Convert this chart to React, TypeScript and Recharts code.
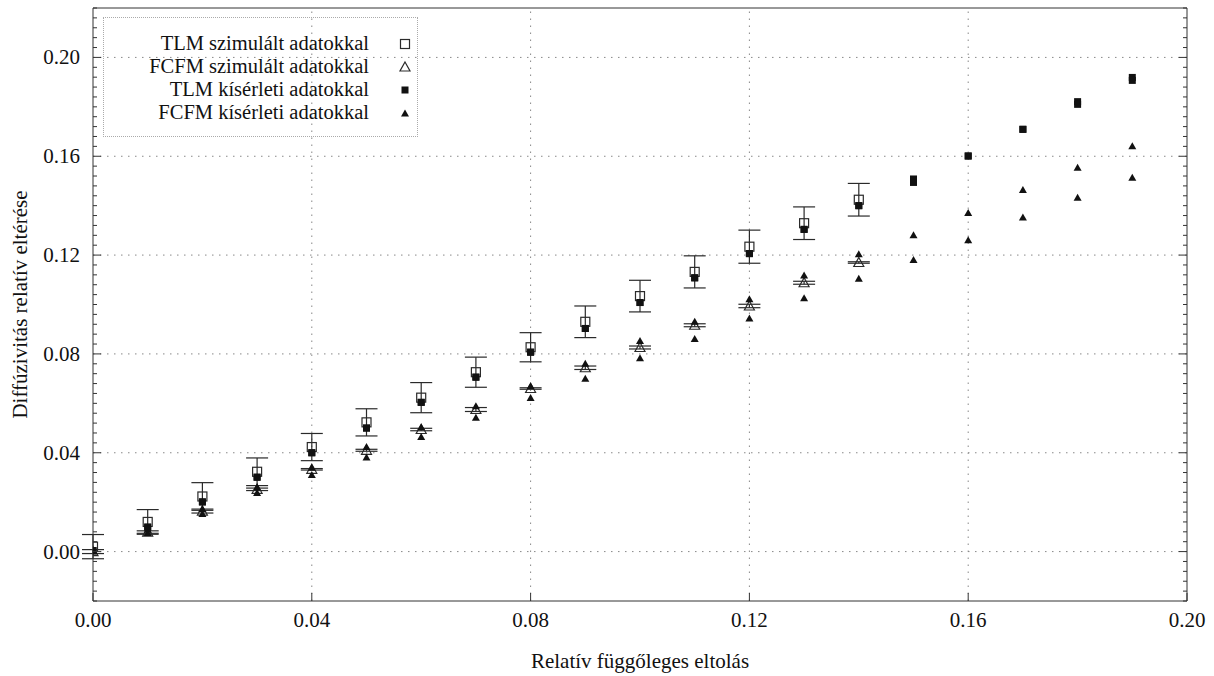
import { ScatterChart, Scatter, XAxis, YAxis, ErrorBar, ReferenceLine, Legend } from 'recharts';

// relatív függőleges eltolás (x)
const xValues = [0, 0.01, 0.02, 0.03, 0.04, 0.05, 0.06, 0.07, 0.08, 0.09, 0.1, 0.11, 0.12, 0.13, 0.14, 0.15, 0.16, 0.17, 0.18, 0.19];

// TLM szimulált adatokkal (0 .. 0.14) + hibasáv
const tlmSim = [0.002, 0.012, 0.0223, 0.0323, 0.0423, 0.0523, 0.0623, 0.0726, 0.0827, 0.093, 0.1034, 0.1132, 0.1234, 0.1329, 0.1424];
const tlmSimErr = [0.0049, 0.005, 0.0056, 0.0056, 0.0055, 0.0055, 0.0061, 0.0061, 0.0059, 0.0064, 0.0064, 0.0065, 0.0067, 0.0066, 0.0066];

// FCFM szimulált adatokkal (0 .. 0.14) + hibasáv
const fcfmSim = [0.0, 0.0079, 0.0164, 0.0252, 0.0333, 0.041, 0.0494, 0.0575, 0.066, 0.0744, 0.0826, 0.0916, 0.0994, 0.1088, 0.117];
const fcfmSimErr = [0.0008, 0.0005, 0.0008, 0.0005, 0.0003, 0.0004, 0.0005, 0.0008, 0.0003, 0.0007, 0.0006, 0.0006, 0.0007, 0.0006, 0.0003];

// TLM kísérleti adatokkal (két mérés, többnyire egybeesik)
const tlmExpA = [0.0004, 0.0099, 0.0201, 0.0301, 0.04, 0.05, 0.0604, 0.0706, 0.0807, 0.0903, 0.1008, 0.1108, 0.1206, 0.1304, 0.14, 0.1508, 0.1601, 0.1709, 0.1821, 0.1919];
const tlmExpB = [0.0004, 0.0099, 0.0201, 0.0301, 0.04, 0.05, 0.0604, 0.0706, 0.0807, 0.0903, 0.1008, 0.1108, 0.1206, 0.1304, 0.14, 0.1494, 0.1601, 0.1709, 0.181, 0.1907];

// FCFM kísérleti adatokkal (felső / alsó érték)
const fcfmExpHigh = [0.0003, 0.0088, 0.0172, 0.026, 0.0339, 0.0423, 0.0503, 0.0588, 0.0669, 0.076, 0.0852, 0.093, 0.1021, 0.1117, 0.1203, 0.128, 0.137, 0.1463, 0.1553, 0.164];
const fcfmExpLow = [0.0, 0.0075, 0.0152, 0.0237, 0.031, 0.0381, 0.0464, 0.0542, 0.0622, 0.07, 0.0782, 0.086, 0.0943, 0.1025, 0.1104, 0.118, 0.126, 0.1352, 0.1432, 0.1513];

const seriesNames = ['TLM szimulált adatokkal', 'FCFM szimulált adatokkal', 'TLM kísérleti adatokkal', 'FCFM kísérleti adatokkal'];

const xTicks = [0, 0.04, 0.08, 0.12, 0.16, 0.2];
const yTicks = [0, 0.04, 0.08, 0.12, 0.16, 0.2];
const xGrid = [0.04, 0.08, 0.12, 0.16];
const yMinorTicks = Array.from({ length: 61 }, (_, i) => Math.round((-0.02 + i * 0.004) * 1000) / 1000);

const X_DOMAIN = [0, 0.2];
const Y_DOMAIN = [-0.02, 0.22];
const FONT = '"Liberation Serif", "Times New Roman", serif';
const AXIS = '#333';
const INK = '#2a2a2a';
const TEXT = '#111';

const isMajor = (v: number) => Math.round(v * 1000) % 40 === 0;

const withX = (ys: number[], errs?: number[]) =>
  ys.map((y, i) => ({ x: xValues[i], y, err: errs ? errs[i] : 0 }));

const tlmSimData = withX(tlmSim, tlmSimErr);
const fcfmSimData = withX(fcfmSim, fcfmSimErr);
const tlmExpAData = withX(tlmExpA);
const tlmExpBData = withX(tlmExpB);
const fcfmExpHighData = withX(fcfmExpHigh);
const fcfmExpLowData = withX(fcfmExpLow);

// jelölők
const OpenSquare = ({ cx, cy }: any) => (
  <rect x={cx - 4.5} y={cy - 4.5} width={9} height={9} fill="none" stroke={INK} strokeWidth={1.2} />
);
const OpenTriangle = ({ cx, cy }: any) => (
  <path d={`M${cx},${cy - 5} L${cx + 5},${cy + 4} L${cx - 5},${cy + 4} Z`} fill="none" stroke={INK} strokeWidth={1.2} />
);
const FilledSquare = ({ cx, cy }: any) => (
  <rect x={cx - 3.5} y={cy - 3.5} width={7} height={7} fill="#111" />
);
const FilledTriangle = ({ cx, cy }: any) => (
  <path d={`M${cx},${cy - 4} L${cx + 4},${cy + 3} L${cx - 4},${cy + 3} Z`} fill="#111" />
);

// tengely-jelek befelé (gnuplot stílus)
const LeftTick = ({ x, y, payload }: any) => {
  const major = isMajor(payload.value);
  const ax = x + 13;
  return (
    <g>
      <line x1={ax} x2={ax + (major ? 8 : 4)} y1={y} y2={y} stroke={AXIS} />
      {major && (
        <text x={x} y={y + 7} textAnchor="end" fontSize={21} fill={TEXT} fontFamily={FONT}>
          {payload.value.toFixed(2)}
        </text>
      )}
    </g>
  );
};

const RightTick = ({ x, y, payload }: any) => (
  <line x1={x} x2={x - (isMajor(payload.value) ? 8 : 4)} y1={y} y2={y} stroke={AXIS} />
);

const TopTick = ({ x, y }: any) => <line x1={x} x2={x} y1={y} y2={y + 8} stroke={AXIS} />;

const BottomTick = ({ x, y, payload }: any) => (
  <g>
    <line x1={x} x2={x} y1={y} y2={y - 8} stroke={AXIS} />
    <text x={x} y={y + 26} textAnchor="middle" fontSize={21} fill={TEXT} fontFamily={FONT}>
      {payload.value.toFixed(2)}
    </text>
  </g>
);

const legendSymbols = [
  <rect key="a" x={31.5} y={6.5} width={9} height={9} fill="none" stroke={INK} strokeWidth={1.2} />,
  <path key="b" d="M36,6 L41,15 L31,15 Z" fill="none" stroke={INK} strokeWidth={1.2} />,
  <rect key="c" x={32.5} y={7.5} width={7} height={7} fill="#111" />,
  <path key="d" d="M36,7.5 L40,14.5 L32,14.5 Z" fill="#111" />,
];

const LegendBox = () => (
  <div
    style={{
      width: 315,
      height: 120,
      boxSizing: 'border-box',
      border: '1px dotted #aaa',
      paddingTop: 14,
      fontFamily: FONT,
      fontSize: 20.5,
      color: TEXT,
    }}
  >
    {seriesNames.map((name, i) => (
      <div key={name} style={{ display: 'flex', alignItems: 'center', height: 23 }}>
        <span style={{ width: 265, flexShrink: 0, textAlign: 'right', whiteSpace: 'nowrap' }}>{name}</span>
        <svg width={46} height={22} style={{ flexShrink: 0 }}>{legendSymbols[i]}</svg>
      </div>
    ))}
  </div>
);

export default function App() {
  return (
    <div style={{ position: 'absolute', left: 0, top: 0, background: '#fff' }}>
      <ScatterChart width={1214} height={676} margin={{ top: 0, right: 0, bottom: 0, left: 0 }}>
        <XAxis
          dataKey="x"
          type="number"
          domain={X_DOMAIN}
          allowDataOverflow
          ticks={xTicks}
          interval={0}
          height={75}
          tickSize={0}
          tickMargin={0}
          tickLine={false}
          tick={BottomTick}
          axisLine={{ stroke: AXIS }}
          label={{
            value: 'Relatív függőleges eltolás',
            position: 'insideBottom',
            offset: 8,
            style: { fontFamily: FONT, fontSize: 21, fill: TEXT },
          }}
        />
        <XAxis
          xAxisId="t"
          orientation="top"
          type="number"
          domain={X_DOMAIN}
          allowDataOverflow
          ticks={xTicks}
          interval={0}
          height={8}
          tickSize={0}
          tickMargin={0}
          tickLine={false}
          tick={TopTick}
          axisLine={{ stroke: AXIS }}
        />
        <YAxis
          dataKey="y"
          type="number"
          domain={Y_DOMAIN}
          allowDataOverflow
          ticks={yMinorTicks}
          interval={0}
          width={93}
          tickSize={0}
          tickMargin={13}
          tickLine={false}
          tick={LeftTick}
          axisLine={{ stroke: AXIS }}
          label={{
            value: 'Diffúzivitás relatív eltérése',
            angle: -90,
            position: 'insideLeft',
            offset: 20,
            style: { fontFamily: FONT, fontSize: 21, fill: TEXT, textAnchor: 'middle' },
          }}
        />
        <YAxis
          yAxisId="r"
          orientation="right"
          type="number"
          domain={Y_DOMAIN}
          allowDataOverflow
          ticks={yMinorTicks}
          interval={0}
          width={27}
          tickSize={0}
          tickMargin={0}
          tickLine={false}
          tick={RightTick}
          axisLine={{ stroke: AXIS }}
        />

        {yTicks.map(v => (
          <ReferenceLine key={`gy-${v}`} y={v} stroke="#888" strokeDasharray="1.5 5.5" />
        ))}
        {xGrid.map(v => (
          <ReferenceLine key={`gx-${v}`} x={v} stroke="#888" strokeDasharray="1.5 5.5" />
        ))}

        <Legend
          layout="vertical"
          align="center"
          verticalAlign="middle"
          wrapperStyle={{ left: 103, top: 17, width: 315, height: 120 }}
          content={LegendBox}
        />

        <Scatter name={seriesNames[0]} data={tlmSimData} shape={OpenSquare} isAnimationActive={false}>
          <ErrorBar dataKey="err" direction="y" width={11} stroke={INK} strokeWidth={1.2} isAnimationActive={false} />
        </Scatter>
        <Scatter name={seriesNames[1]} data={fcfmSimData} shape={OpenTriangle} isAnimationActive={false}>
          <ErrorBar dataKey="err" direction="y" width={11} stroke={INK} strokeWidth={1.2} isAnimationActive={false} />
        </Scatter>
        <Scatter name={seriesNames[2]} data={tlmExpAData} shape={FilledSquare} isAnimationActive={false} />
        <Scatter name={`${seriesNames[2]} (2)`} data={tlmExpBData} shape={FilledSquare} isAnimationActive={false} />
        <Scatter name={seriesNames[3]} data={fcfmExpHighData} shape={FilledTriangle} isAnimationActive={false} />
        <Scatter name={`${seriesNames[3]} (2)`} data={fcfmExpLowData} shape={FilledTriangle} isAnimationActive={false} />
      </ScatterChart>
    </div>
  );
}
